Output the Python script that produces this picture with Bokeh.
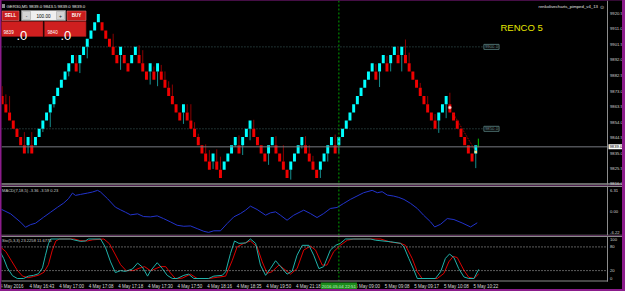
from bokeh.plotting import figure
from bokeh.layouts import column
from bokeh.models import Range1d, Span, Label, BoxAnnotation, ColumnDataSource
from bokeh.embed import file_html
from bokeh.resources import INLINE

# ---------------- data ----------------
BOX = 5.0
brick_low = [
    9865, 9860, 9855, 9850, 9845, 9840, 9835, 9840, 9835, 9840,
    9845, 9850, 9855, 9860, 9865, 9870, 9875, 9880, 9885, 9890,
    9885, 9890, 9895, 9900, 9905, 9910, 9915, 9910, 9905, 9900,
    9895, 9890, 9895, 9890, 9885, 9890, 9895, 9890, 9885, 9880,
    9885, 9880, 9885, 9880, 9875, 9870, 9865, 9860, 9855, 9860,
    9855, 9850, 9845, 9840, 9835, 9830, 9825, 9830, 9825, 9820,
    9825, 9830, 9835, 9840, 9835, 9840, 9845, 9850, 9845, 9840,
    9835, 9830, 9835, 9840, 9835, 9830, 9825, 9820, 9825, 9830,
    9835, 9840, 9835, 9830, 9825, 9820, 9825, 9830, 9835, 9840,
    9835, 9840, 9845, 9850, 9855, 9860, 9865, 9870, 9875, 9880,
    9885, 9880, 9885, 9890, 9885, 9890, 9895, 9890, 9895, 9890,
    9885, 9880, 9875, 9870, 9865, 9860, 9855, 9850, 9855, 9860,
    9865, 9860, 9855, 9850, 9845, 9840, 9835, 9830, 9835]
brick_dir = list("DDDDDDDUDU" "UUUUUUUUUU" "DUUUUUUDDD" "DDUDDUUDDD" "UDUDDDDDDU"
                 "DDDDDDDUDD" "UUUUDUUUDD" "DDUUDDDDUU" "UUDDDDUUUU" "DUUUUUUUUU"
                 "UDUUDUUDUD" "DDDDDDDDUU" "UDDDDDDDU")

wick_idx = [0, 1, 2, 6, 7, 8, 11, 13, 14, 18, 20, 21, 23, 30, 32, 37, 38, 40, 41, 42,
            43, 44, 45, 46, 49, 50, 51, 52, 53, 55, 56, 57, 58, 59, 63, 64, 65, 67, 68, 72,
            74, 76, 78, 81, 82, 83, 84, 86, 88, 90, 91, 101, 102, 104, 105, 107, 108, 109, 110, 113,
            115, 117, 118, 120, 121, 128]
wick_price = [9876, 9871, 9870, 9848, 9835, 9848, 9848, 9851, 9863, 9882, 9895, 9884, 9893, 9908, 9886, 9901, 9898, 9877, 9888, 9876,
              9889, 9885, 9879, 9877, 9853, 9865, 9865, 9854, 9847, 9840.5, 9837, 9825.5, 9837.5, 9833, 9839, 9846, 9834, 9843, 9855.5, 9828,
              9845.5, 9840, 9819, 9838, 9845.5, 9840, 9833.5, 9820, 9830, 9846.5, 9835, 9889.5, 9875.5, 9894.5, 9885, 9900, 9885, 9904.5, 9896.5, 9878,
              9870, 9859, 9847.5, 9856.5, 9872, 9826]

current_price = 9839.0
level_prices = [9900.0, 9850.0]
level_label_idx = 130.2
cross_idx = 91
cross_label = "2016.05.04 22:51"
live_idx = [128.7]
live_low = [9838.7]
live_high = [9844.0]
marker_idx = [121]
marker_price = [9863.0]
tip_idx = [128.0]
tip_price = [9835.8]
trend_idx = [122.0, 128.0]
trend_price = [9859.0, 9836.0]

price_ticks = [9816.0, 9825.5, 9835.0, 9844.5, 9854.0, 9863.5, 9873.0, 9882.5, 9892.0, 9901.5, 9911.0, 9920.5]

macd_pts = [(-0.5, 0.8), (2.3, -0.7), (5.0, -3.2), (6.3, -4.7), (7.7, -3.9), (9.0, -3.5), (11.2, -1.7), (13.1, -0.2),
            (15.0, 1.3), (16.6, 2.5), (17.9, 3.8), (19.0, 5.5), (19.8, 4.8), (21.2, 5.1), (23.1, 5.5), (24.4, 5.8),
            (25.8, 6.3), (26.6, 5.8), (28.5, 3.8), (30.6, 1.3), (32.0, 0.5), (33.3, -0.2), (34.7, -1.0), (36.6, -0.7),
            (38.2, -1.5), (40.1, -1.6), (41.9, -1.3), (43.6, -2.1), (45.5, -3.1), (47.3, -4.1), (49.1, -4.4), (50.9, -4.3),
            (52.7, -5.1), (54.5, -5.9), (55.8, -6.22), (57.2, -5.75), (59.0, -5.75), (60.8, -3.6), (62.6, -1.6), (64.4, -0.6),
            (65.8, 0.4), (67.1, 1.6), (68.9, 0.6), (71.2, -1.1), (72.5, -0.4), (73.9, -0.1), (75.2, -1.1), (77.0, -2.6),
            (78.8, -1.1), (81.5, 0.4), (83.3, -0.6), (85.1, -1.8), (86.9, -0.6), (88.7, 0.9), (90.5, 1.2), (92.3, 2.4),
            (94.1, 3.6), (95.9, 4.6), (97.7, 5.6), (100.0, 6.31), (101.4, 5.6), (102.7, 5.9), (104.1, 4.9), (105.8, 4.6),
            (107.2, 4.2), (108.6, 3.6), (110.4, 2.4), (112.2, 0.9), (113.9, -1.1), (115.8, -3.1), (116.9, -4.6), (118.5, -3.8),
            (120.3, -2.1), (122.1, -2.4), (124.3, -3.4), (126.6, -4.6), (128.4, -3.36)]
macd_ticks = [6.31, 0.0, -6.22]

sto_main = [(-0.5, 67), (0.4, 51), (1.4, 27), (2.8, 7), (4.1, 0), (5.8, 0), (7.1, 6), (8.5, 8), (9.8, 12), (10.9, 27),
            (11.7, 59), (12.5, 88), (13.1, 100), (18.5, 100), (19.3, 98), (21.2, 94), (22.5, 95), (23.3, 100), (26.6, 100), (27.9, 79),
            (29.3, 42), (30.6, 15), (32, 20), (33.3, 18), (35.2, 24), (36.6, 39), (37.9, 29), (39.3, 6), (40.1, 19.5), (41.9, 40),
            (43.3, 25), (44.6, 8), (46.0, 0), (47.3, 0), (49.1, 8), (50.4, 11), (51.8, 0), (55.8, 0), (57.2, 6), (59.5, 8),
            (60.4, 17), (61.7, 63), (62.8, 95), (64.0, 89), (65.8, 90), (67.1, 100), (68.5, 89), (69.8, 34), (71.2, 8), (72.5, 25),
            (73.9, 45), (75.2, 31), (77.0, 11), (78.4, 19), (79.7, 59), (81.1, 84), (82.9, 84), (84.2, 59), (85.6, 25), (86.9, 30),
            (88.7, 72), (90.1, 84), (91.4, 89), (92.8, 100), (99.6, 100), (100.9, 97), (105.0, 93), (107.7, 89), (108.6, 80), (109.9, 51),
            (111.3, 21), (112.2, 0), (117.1, 0), (118.5, 17), (119.8, 51), (120.9, 62), (122.1, 53), (123.4, 25), (124.8, 4), (126.1, 0),
            (127.5, 0), (128.8, 23.2258)]
sto_signal = [(-0.5, 80), (1, 68), (2.5, 45), (4, 22), (5.5, 6), (7, 2), (8.5, 5), (10, 9), (11.3, 16), (12.5, 35),
              (13.5, 70), (14.5, 95), (15.5, 100), (19.5, 100), (21, 96), (23, 95), (24.5, 98), (27.5, 100), (29, 88), (30.5, 62),
              (32, 35), (33.5, 20), (35.5, 20), (37, 26), (38.5, 30), (40.1, 19.5), (42.8, 30), (44.2, 30), (45.5, 14), (46.8, 0),
              (48.7, 1), (50.9, 11), (52.7, 0), (55.8, 0), (58.1, 3), (60.4, 6), (62.2, 46), (63.5, 80), (65.3, 89), (67.1, 95),
              (68.9, 80), (70.3, 42), (71.6, 13), (72.9, 17), (74.8, 34), (76.1, 25), (77.9, 11), (79.7, 25), (81.5, 72), (83.3, 82),
              (84.7, 72), (86.5, 34), (87.8, 34), (89.6, 68), (91.4, 84), (93.3, 97), (95.0, 100), (102.3, 100), (105.0, 92), (107.7, 89),
              (109.0, 84), (110.8, 51), (112.2, 17), (113.5, 0), (117.6, 0), (119.4, 13), (120.7, 42), (121.9, 56), (123.0, 53), (124.8, 21),
              (126.1, 3), (127.5, 0), (128.8, 11.6775)]
sto_ticks = [100, 80, 20, 0]
sto_levels = [80, 20]

time_idx = [-1, 7, 15, 23, 31, 39, 47, 55, 63, 71, 79, 87, 95, 103, 111, 119, 127]
time_labels = ["4 May 2016", "4 May 16:43", "4 May 17:00", "4 May 17:08", "4 May 17:18", "4 May 17:30",
               "4 May 17:50", "4 May 18:16", "4 May 18:35", "4 May 19:50", "4 May 21:18", "4 May 22:45",
               "5 May 09:00", "5 May 09:08", "5 May 09:17", "5 May 10:08", "5 May 10:22"]

# ---------------- styling ----------------
FONT = "Liberation Sans"
UP, DN = "#00FFFF", "#F00000"
WUP, WDN = "#158e8e", "#8b0000"
AXTXT = "#d0d0d0"
SEP = "#8c8c8c"
W = 621
XR = Range1d(-0.18, 167.66)


def base(h, yr):
    f = figure(width=W, height=h, x_range=XR, y_range=yr, output_backend="svg",
               toolbar_location=None, x_axis_location=None, y_axis_location=None,
               min_border=0, margin=(0, 0, 0, 1))
    f.background_fill_color = "black"
    f.border_fill_color = "black"
    f.outline_line_color = None
    f.xgrid.visible = False
    f.ygrid.visible = False
    return f


def lab(f, text, x, y, size, color, xu="screen", yu="screen", align="left",
        baseline="middle", style="normal", **kw):
    f.add_layout(Label(x=x, y=y, x_units=xu, y_units=yu, text=text, text_font=FONT,
                       text_font_size=size, text_color=color, text_align=align,
                       text_baseline=baseline, text_font_style=style, **kw))


def box(f, l, r, t, b, fill, line=None, lw=0.6):
    f.add_layout(BoxAnnotation(left=l, right=r, top=t, bottom=b, left_units="screen",
                               right_units="screen", top_units="screen", bottom_units="screen",
                               fill_color=fill, fill_alpha=1.0, line_color=line, line_width=lw,
                               line_alpha=1.0 if line else 0.0))


def sx(X):
    return X - 1


def mk_sy(bottom):
    return lambda Y: bottom - Y


def cross(f):
    f.add_layout(Span(location=cross_idx, dimension="height", line_color="#00a000",
                      line_dash="2 2", line_width=1))


# ---------------- main renko panel ----------------
p = base(185, Range1d(9815.4, 9928.3))
sy = mk_sy(185)
n = len(brick_low)
bsrc = ColumnDataSource(dict(
    x=list(range(n)),
    bottom=brick_low,
    top=[v + BOX for v in brick_low],
    color=[UP if d == "U" else DN for d in brick_dir],
))
wsrc = ColumnDataSource(dict(
    x=wick_idx,
    y0=[brick_low[i] if brick_dir[i] == "U" else brick_low[i] + BOX for i in wick_idx],
    y1=wick_price,
    color=[WUP if brick_dir[i] == "U" else WDN for i in wick_idx],
))

for lv in level_prices:
    p.segment(x0=-1, x1=level_label_idx, y0=lv, y1=lv, line_color="#3d6060",
              line_dash="1 2", line_width=1)
    lab(p, f"{lv:.1f}", level_label_idx, lv, "4.3px", "#7a9a9a", xu="data", yu="data",
        border_line_color="#4d7070", background_fill_color="black", padding=1)

p.add_layout(Span(location=current_price, dimension="width", line_color="#767a80", line_width=1))
cross(p)

p.segment(x0="x", x1="x", y0="y0", y1="y1", line_color="color", line_width=1, source=wsrc)
p.vbar(x="x", width=0.8, bottom="bottom", top="top", fill_color="color", line_color=None, source=bsrc)

p.line(trend_idx, trend_price, line_color="#c00000", line_dash="1 1", line_width=1)
p.segment(x0=live_idx, x1=live_idx, y0=live_low, y1=live_high, line_color="#00c000", line_width=1)
p.scatter(marker_idx, marker_price, size=3, fill_color="#ffd0d0", line_color="#ff8080", line_width=0.5)
p.scatter(tip_idx, tip_price, marker="square", size=2.5, fill_color="#ffe08a", line_color=None)

# right price-scale column
box(p, sx(607), sx(622), sy(0), sy(185), "black")
box(p, sx(606.5), sx(607.5), sy(0), sy(184), SEP)
box(p, sx(0), sx(622), sy(182.8), sy(184.2), SEP)

# header / trade panel decorations
box(p, sx(1.5), sx(4.5), sy(3.5), sy(7.5), "#8a8a8a")
lab(p, "GER30,M5  9839.0 9843.5 9839.0 9839.0", sx(6), sy(5.5), "4.3px", "#e8e8e8")
box(p, sx(1.5), sx(18.5), sy(10.5), sy(20), "#c71d1d", "#e07070")
lab(p, "SELL", sx(10), sy(15.3), "4.6px", "white", align="center", style="bold")
box(p, sx(21), sx(65), sy(10), sy(20), "#efefef", "#909090")
box(p, sx(22), sx(30), sy(11), sy(19), "#d4d4d4", "#a8a8a8")
box(p, sx(56), sx(64), sy(11), sy(19), "#d4d4d4", "#a8a8a8")
lab(p, "-", sx(26), sy(15), "5px", "#202020", align="center")
lab(p, "100.00", sx(43), sy(15.3), "4.6px", "#000000", align="center")
lab(p, "+", sx(60), sy(15), "5px", "#202020", align="center")
box(p, sx(66.5), sx(85.5), sy(10.5), sy(20), "#c71d1d", "#e07070")
lab(p, "BUY", sx(76), sy(15.3), "4.6px", "white", align="center", style="bold")
box(p, sx(0.5), sx(42.5), sy(21), sy(36), "#cf1f1f", "#901515")
box(p, sx(44), sx(85.5), sy(21), sy(36), "#cf1f1f", "#901515")
lab(p, "9839", sx(3), sy(31), "4.6px", "white")
lab(p, ".0", sx(16), sy(34.5), "13px", "white", baseline="alphabetic")
lab(p, "9840", sx(47), sy(31), "4.6px", "white")
lab(p, ".0", sx(60), sy(34.5), "13px", "white", baseline="alphabetic")

lab(p, "RENCO 5", sx(500), sy(26.5), "9.5px", "#e6e600")
lab(p, "renkolivecharts_pimped_v4_13", sx(597.5), sy(6), "4.3px", "#e0e0e0", align="right")
lab(p, "\u2299", sx(601.5), sy(6), "5px", "#d0d0d0", align="center")

for t in price_ticks:
    lab(p, f"{t:.1f}", sx(609.5), t, "4.2px", AXTXT, yu="data",
        baseline="bottom" if t == min(price_ticks) else "middle")
lab(p, f"{current_price:.1f}", sx(608), current_price, "4.2px", "#000000", yu="data",
    background_fill_color="#ffffff", padding=1)

# ---------------- MACD panel ----------------
m = base(50, Range1d(-7.15, 7.75))
sy = mk_sy(50)
cross(m)
m.line([a for a, _ in macd_pts], [b for _, b in macd_pts], line_color="#2233cc", line_width=1)
box(m, sx(607), sx(622), sy(0), sy(50), "black")
box(m, sx(0), sx(622), sy(0.3), sy(1.5), SEP)
box(m, sx(0), sx(622), sy(49.2), sy(50), SEP)
box(m, sx(606.5), sx(607.5), sy(0), sy(50), SEP)
lab(m, "MACD(7,18,5) -3.36 -3.59 0.23", 0.5, sy(5), "4.1px", "#c8c8c8")
for t in macd_ticks:
    lab(m, f"{t:.2f}", sx(609.5), t, "4.2px", AXTXT, yu="data")

# ---------------- Stochastic panel ----------------
s = base(54, Range1d(-27.85, 108.9))
sy = mk_sy(54)
for lv in sto_levels:
    s.add_layout(Span(location=lv, dimension="width", line_color="#b8b8b8",
                      line_dash="1 2", line_width=1))
cross(s)
s.line([a for a, _ in sto_signal], [b for _, b in sto_signal], line_color="#dc0000", line_width=1)
s.line([a for a, _ in sto_main], [b for _, b in sto_main], line_color="#20b2aa", line_width=1)
# time-scale strip below the indicator
box(s, sx(0), sx(622), sy(45.3), sy(54), "black")
box(s, sx(607), sx(622), sy(0), sy(54), "black")
box(s, sx(0), sx(622), sy(0), sy(1.6), SEP)
box(s, sx(0), sx(607.5), sy(45), sy(46), SEP)
box(s, sx(606.5), sx(607.5), sy(0), sy(46), SEP)
s.segment(x0=time_idx, x1=time_idx, y0=[-6.5] * len(time_idx), y1=[-11.5] * len(time_idx),
          line_color="#c8c8c8", line_width=1)
lab(s, "Sto(5,3,3) 23.2258 11.6775", 0.5, sy(5), "4.1px", "#c8c8c8")
for t in sto_ticks:
    lab(s, f"{t}", sx(609.5), t, "4.2px", AXTXT, yu="data")
for ti, tl in zip(time_idx, time_labels):
    lab(s, tl, ti, sy(50.5), "4.5px", "#dadada", xu="data", x_offset=1.5)
lab(s, cross_label, cross_idx, sy(50.5), "4.4px", "#c8f5c8", xu="data", align="center",
    background_fill_color="#1c8c1c", padding=1)

layout = column(p, m, s, width=625, height=291, spacing=0,
                styles={"background-color": "#8b1c8b"})

open("out.html", "w").write(file_html(layout, INLINE))
